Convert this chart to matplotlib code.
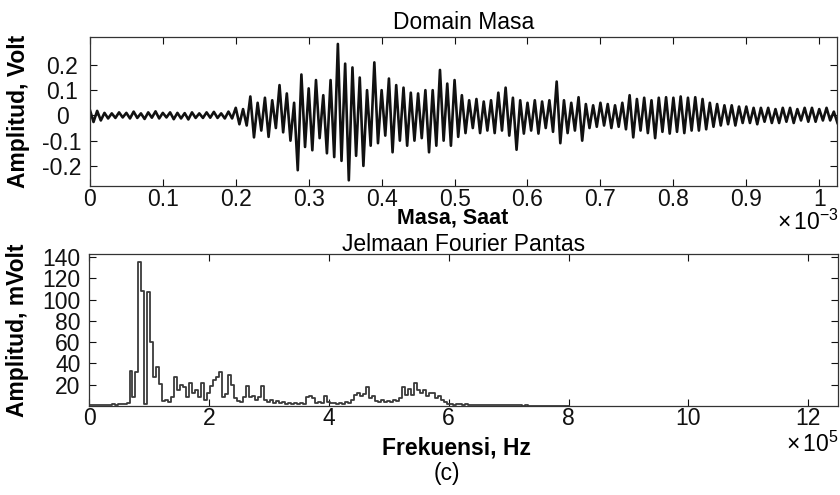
import numpy as np
import matplotlib
matplotlib.use("Agg")
import matplotlib.pyplot as plt
from matplotlib.ticker import FuncFormatter

plt.rcParams['font.family'] = ['Liberation Sans', 'DejaVu Sans']
plt.rcParams['mathtext.fontset'] = 'custom'
plt.rcParams['mathtext.rm'] = 'Liberation Sans'
plt.rcParams['mathtext.it'] = 'Liberation Sans:italic'
plt.rcParams['axes.unicode_minus'] = False

FS = 16.5

# time-domain signal, one value every 5 microseconds (Volt)
dt = 5e-6
signal = [
    0.022, -0.026, 0.018, -0.02, 0.01, -0.012, 0.008, -0.01, 0.012, -0.008,
    0.01, -0.012, 0.015, -0.01, 0.008, -0.014, 0.012, -0.009, 0.016, -0.012,
    0.01, -0.008, 0.012, -0.015, 0.01, -0.012, 0.009, -0.016, 0.012, -0.01,
    0.008, -0.01, 0.012, -0.009, 0.014, -0.01, 0.008, -0.012, 0.015, -0.012,
    0.03, -0.035, 0.025, -0.04, 0.075, -0.087, 0.05, -0.06, 0.07, -0.085,
    0.06, -0.05, 0.12, -0.067, 0.087, -0.1, 0.05, -0.217, 0.162, -0.125,
    0.107, -0.138, 0.14, -0.09, 0.08, -0.15, 0.14, -0.165, 0.283, -0.18,
    0.205, -0.257, 0.19, -0.16, 0.15, -0.2, 0.1, -0.12, 0.21, -0.11,
    0.1, -0.08, 0.146, -0.146, 0.12, -0.1, 0.11, -0.12, 0.09, -0.1,
    0.087, -0.09, 0.1, -0.146, 0.1, -0.12, 0.18, -0.1, 0.126, -0.12,
    0.14, -0.085, 0.08, -0.07, 0.06, -0.05, 0.065, -0.07, 0.055, -0.06,
    0.06, -0.07, 0.09, -0.06, 0.11, -0.08, 0.07, -0.136, 0.06, -0.072,
    0.05, -0.06, 0.06, -0.072, 0.055, -0.05, 0.06, -0.065, 0.134, -0.11,
    0.06, -0.07, 0.05, -0.06, 0.072, -0.1, 0.045, -0.05, 0.04, -0.045,
    0.05, -0.04, 0.045, -0.05, 0.04, -0.045, 0.05, -0.055, 0.08, -0.087,
    0.065, -0.06, 0.07, -0.07, 0.06, -0.09, 0.07, -0.065, 0.072, -0.072,
    0.07, -0.065, 0.075, -0.07, 0.07, -0.06, 0.072, -0.06, 0.065, -0.055,
    0.05, -0.045, 0.045, -0.04, 0.04, -0.035, 0.04, -0.04, 0.035, -0.03,
    0.035, -0.03, 0.03, -0.035, 0.03, -0.025, 0.03, -0.03, 0.025, -0.03,
    0.03, -0.025, 0.03, -0.03, 0.025, -0.02, 0.03, -0.025, 0.03, -0.025,
    0.025, -0.02, 0.03, -0.02, 0.015, -0.03,
]

# FFT magnitude, one value every 5 kHz (mVolt)
df = 5e3
spectrum = [
    1, 1, 1, 1, 0.5, 0.5, 1, 1, 1.5, 1, 2, 1.5, 2, 3,
    33, 8, 32, 135, 108, 2, 107, 60, 27, 37, 21, 5,
    6, 4, 8, 27, 15, 20, 18, 8, 22, 12, 15, 8, 22, 6,
    12, 19, 24, 27, 32, 8, 11, 29, 20, 7,
    5, 4, 8, 19, 8, 9, 6, 8, 19, 6,
    4, 6, 3, 5, 3, 4, 2, 3, 2, 3,
    2, 3, 2, 8, 9, 7, 3, 4, 3, 9,
    4, 3, 3, 2, 3, 2, 4, 3, 6, 10,
    12, 9, 11, 18, 7, 9, 5, 4, 6, 4,
    5, 4, 6, 5, 7, 18, 10, 16, 10, 22,
    15, 12, 15, 9, 12, 12, 7, 9, 6, 4,
    2, 1.5, 1, 2, 1.5, 1, 1.5, 1, 1.2, 1,
    0.8, 1, 0.8, 1, 0.6, 0.8, 0.5, 0.8, 0.5, 0.6,
    0.5, 0.4, 0.6, 0.4, 0.5, 0.3, 0.4, 0.3, 0.3, 0.2,
    0.2, 0.1, 0.1, 0, 0, 0, 0, 0, 0, 0, 0,
]

t = np.arange(len(signal)) * dt
f = np.arange(len(spectrum)) * df

fig = plt.figure(figsize=(8.4, 4.95), dpi=100)
ax1 = fig.add_axes([0.107, 0.624, 0.890, 0.301])
ax2 = fig.add_axes([0.106, 0.180, 0.892, 0.307])

# top: time domain
ax1.plot(t, signal, color='#111111', lw=1.9)
ax1.set_xlim(0, 1.025e-3)
ax1.set_ylim(-0.28, 0.31)
ax1.set_xticks(np.arange(0, 1.01e-3, 1e-4))
ax1.xaxis.set_major_formatter(FuncFormatter(lambda v, p: f'{v * 1e3:g}'))
ax1.set_yticks([-0.2, -0.1, 0, 0.1, 0.2])
ax1.set_yticklabels(['-0.2', '-0.1', '0', '0.1', '0.2'], ha='center')
ax1.set_title('Domain Masa', fontsize=FS, pad=6)
ax1.set_xlabel('Masa, Saat', fontsize=15.5, fontweight='bold')
ax1.xaxis.set_label_coords(0.485, -0.146)
ax1.set_ylabel('Amplitud, Volt', fontsize=FS, fontweight='bold')
ax1.yaxis.set_label_coords(-0.08, 0.5)
fig.text(0.998, 0.55, r'$\times\,10^{-3}$', ha='right', va='center', fontsize=FS)

# bottom: FFT
ax2.plot(f, spectrum, color='#3a3a3a', lw=1.3, drawstyle='steps-mid')
ax2.set_xlim(0, 1.25e6)
ax2.set_ylim(0, 143)
ax2.set_xticks(np.arange(0, 1.21e6, 2e5))
ax2.xaxis.set_major_formatter(FuncFormatter(lambda v, p: f'{v / 1e5:g}'))
ax2.set_yticks([20, 40, 60, 80, 100, 120, 140])
ax2.set_title('Jelmaan Fourier Pantas', fontsize=FS, pad=2)
ax2.set_xlabel('Frekuensi, Hz', fontsize=FS, fontweight='bold')
ax2.xaxis.set_label_coords(0.49, -0.2)
ax2.set_ylabel('Amplitud, mVolt', fontsize=FS, fontweight='bold')
ax2.yaxis.set_label_coords(-0.08, 0.5)
fig.text(0.998, 0.102, r'$\times\,10^{5}$', ha='right', va='center', fontsize=FS)

for ax in (ax1, ax2):
    ax.tick_params(direction='in', length=5, width=0.8, top=True, right=True,
                   labelsize=FS, colors='#111111')
    ax.tick_params(axis='x', pad=1)
    for s in ax.spines.values():
        s.set_linewidth(0.9)
        s.set_color('#333333')
ax1.tick_params(axis='y', pad=20)
ax2.tick_params(axis='y', pad=6)

fig.text(0.532, 0.044, '(c)', ha='center', va='center', fontsize=FS)

fig.savefig('out.png', dpi=100)
